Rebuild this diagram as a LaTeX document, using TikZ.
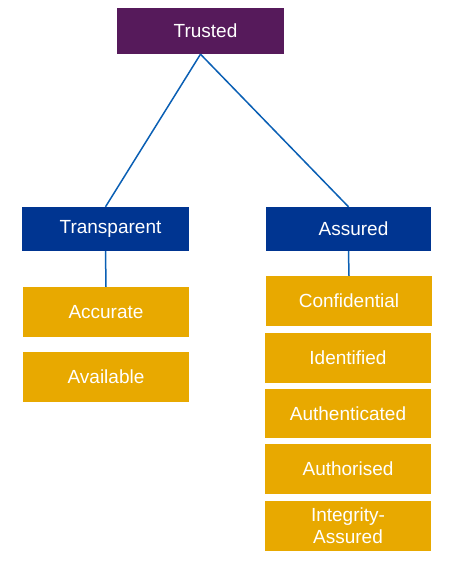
\documentclass[tikz,border=0pt]{standalone}
\usepackage{fontspec}
\setmainfont{Liberation Sans}
\definecolor{trustpurple}{HTML}{561A5B}
\definecolor{groupblue}{HTML}{003591}
\definecolor{leafgold}{HTML}{E8A900}
\definecolor{linkblue}{HTML}{0A5FB4}

\begin{document}
\begin{tikzpicture}[x=1pt, y=-1pt, font=\fontsize{19}{22}\selectfont]
\useasboundingbox (0,0) rectangle (458,566);
\tikzset{box/.style={shape=rectangle, text=white, inner sep=0pt, align=center}}
\node[box, fill=trustpurple, minimum width=167pt, minimum height=46pt] (T) at (200.5, 31) {\hspace*{10pt}Trusted};
\node[box, fill=groupblue, minimum width=167pt, minimum height=44pt] (Tr) at (105.5, 229) {\hspace*{10pt}Transparent};
\node[box, fill=groupblue, minimum width=165pt, minimum height=44pt] (As) at (348.5, 229) {\hspace*{10pt}Assured};
\node[box, fill=leafgold, minimum width=166pt, minimum height=50pt] (Acc) at (106, 312) {Accurate};
\node[box, fill=leafgold, minimum width=166pt, minimum height=50pt] (Ava) at (106, 377) {Available};
\node[box, fill=leafgold, minimum width=166pt, minimum height=50pt] (Con) at (349, 301) {Confidential};
\node[box, fill=leafgold, minimum width=166pt, minimum height=50pt] (Ide) at (348, 358) {Identified};
\node[box, fill=leafgold, minimum width=166pt, minimum height=49pt] (Aut) at (348, 413.5) {Authenticated};
\node[box, fill=leafgold, minimum width=166pt, minimum height=50pt] (Aus) at (348, 469) {Authorised};
\node[box, fill=leafgold, minimum width=166pt, minimum height=50pt] (Int) at (348, 526) {Integrity-\\Assured};
\path [-, line width=1.5pt, draw=linkblue] (T.south) edge (Tr.north);
\path [-, line width=1.5pt, draw=linkblue] (T.south) edge (As.north);
\path [-, line width=1.5pt, draw=linkblue] (Tr.south) edge (Acc.north);
\path [-, line width=1.5pt, draw=linkblue] (As.south) edge (Con.north);
\end{tikzpicture}
\end{document}
